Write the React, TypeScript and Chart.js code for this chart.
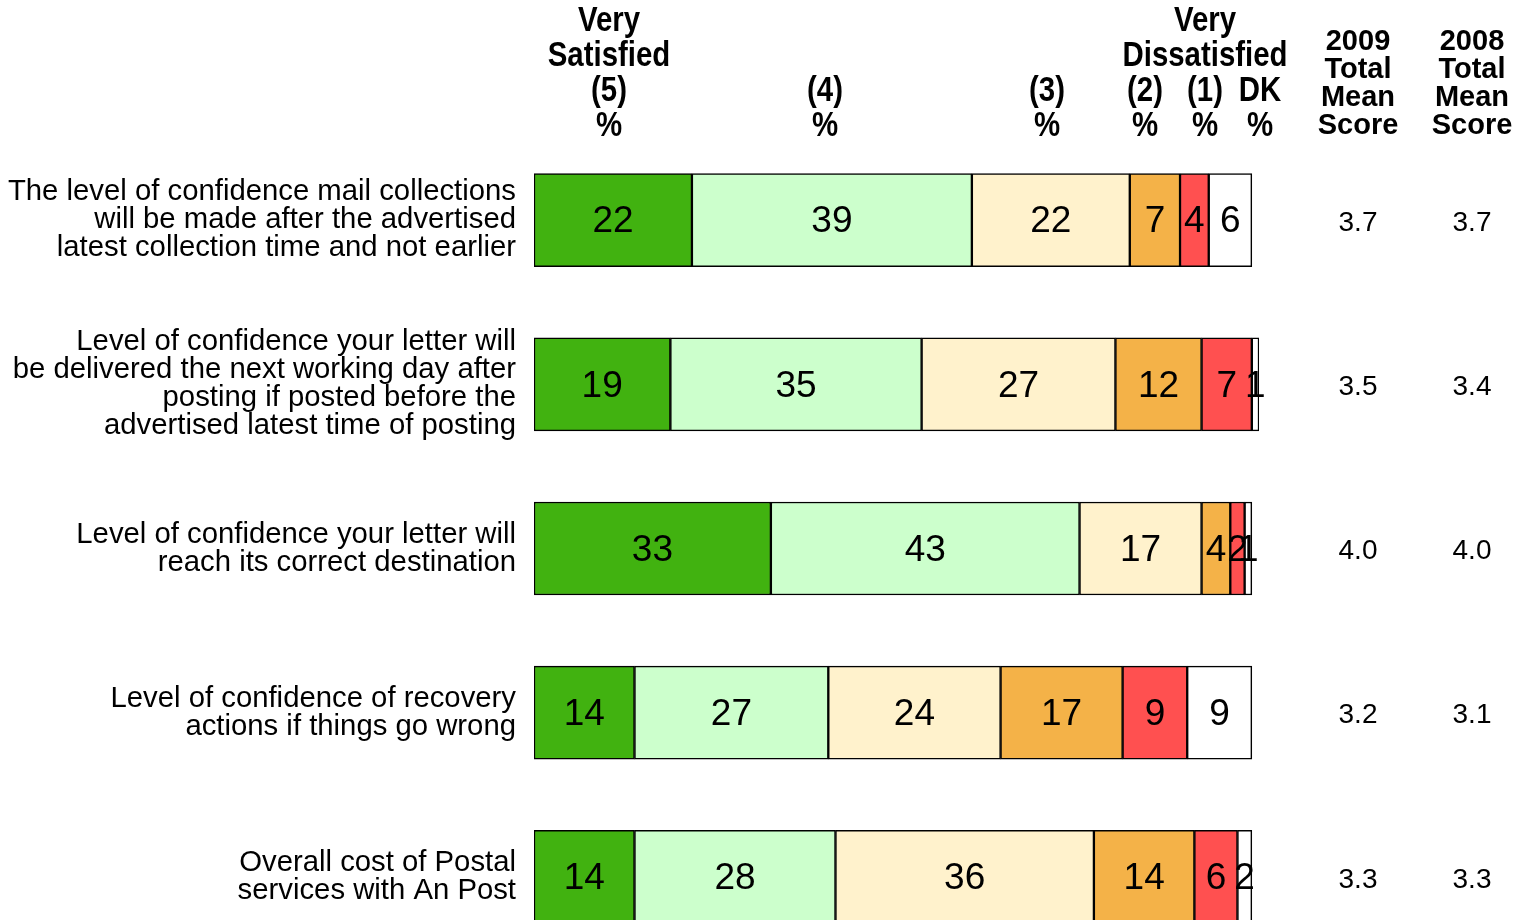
import React, { useEffect, useRef } from "react";
import { Chart, registerables } from "chart.js";

Chart.register(...registerables);

const categories: string[][] = [
  ["The level of confidence mail collections", "will be made after the advertised", "latest collection time and not earlier"],
  ["Level of confidence your letter will", "be delivered the next working day after", "posting if posted before the", "advertised latest time of posting"],
  ["Level of confidence your letter will", "reach its correct destination"],
  ["Level of confidence of recovery", "actions if things go wrong"],
  ["Overall cost of Postal", "services with An Post"],
];

const seriesNames = ["(5)", "(4)", "(3)", "(2)", "(1)", "DK"];
const verySatisfied5 = [22, 19, 33, 14, 14];
const satisfied4 = [39, 35, 43, 27, 28];
const neutral3 = [22, 27, 17, 24, 36];
const dissatisfied2 = [7, 12, 4, 17, 14];
const veryDissatisfied1 = [4, 7, 2, 9, 6];
const dontKnow = [6, 1, 1, 9, 2];

const mean2009 = ["3.7", "3.5", "4.0", "3.2", "3.3"];
const mean2008 = ["3.7", "3.4", "4.0", "3.1", "3.3"];

const columnHeaders: string[][] = [
  ["Very", "Satisfied", "(5)", "%"],
  ["(4)", "%"],
  ["(3)", "%"],
  ["(2)", "%"],
  ["Very", "Dissatisfied", "(1)", "%"],
  ["DK", "%"],
];
const meanHeaders: string[][] = [
  ["2009", "Total", "Mean", "Score"],
  ["2008", "Total", "Mean", "Score"],
];

const colors = ["#41B210", "#CCFFCC", "#FFF2CC", "#F4B248", "#FF5050", "#FFFFFF"];

const FONT = "'Liberation Sans', Arial, Helvetica, sans-serif";

export default function App() {
  const ref = useRef<HTMLCanvasElement | null>(null);

  useEffect(() => {
    const canvas = ref.current;
    if (!canvas) return;
    const seriesValues = [verySatisfied5, satisfied4, neutral3, dissatisfied2, veryDissatisfied1, dontKnow];

    const textPlugin = {
      id: "textPlugin",
      afterDatasetsDraw(chart: any) {
        const ctx = chart.ctx as CanvasRenderingContext2D;
        const yScale = chart.scales.y;
        ctx.save();
        ctx.fillStyle = "#000";
        ctx.textBaseline = "middle";

        // values inside segments
        ctx.font = `37px ${FONT}`;
        ctx.textAlign = "center";
        chart.data.datasets.forEach((ds: any, di: number) => {
          const meta = chart.getDatasetMeta(di);
          meta.data.forEach((el: any, i: number) => {
            const v = ds.data[i];
            const props = el.getProps(["x", "y", "base"], true);
            const cx = (props.x + props.base) / 2;
            ctx.fillText(String(v), cx, props.y + 2);
          });
        });

        // category labels on the left
        ctx.font = `29.3px ${FONT}`;
        ctx.textAlign = "right";
        const lh = 28;
        categories.forEach((lines, i) => {
          const cy = yScale.getPixelForValue(i);
          const top = cy - ((lines.length - 1) * lh) / 2;
          lines.forEach((ln, k) => ctx.fillText(ln, 516, top + k * lh));
        });

        // mean scores
        ctx.font = `28px ${FONT}`;
        ctx.textAlign = "center";
        categories.forEach((_, i) => {
          const cy = yScale.getPixelForValue(i) + 3;
          ctx.fillText(mean2009[i], 1358, cy);
          ctx.fillText(mean2008[i], 1472, cy);
        });

        // column headers (condensed bold)
        const headerX = [609, 825, 1047, 1145, 1205, 1260];
        ctx.font = `bold 35px ${FONT}`;
        columnHeaders.forEach((lines, c) => {
          const n = lines.length;
          lines.forEach((ln, k) => {
            const y = 126 - (n - 1 - k) * 35;
            ctx.save();
            ctx.translate(headerX[c], y);
            ctx.scale(0.84, 1);
            ctx.fillText(ln, 0, 0);
            ctx.restore();
          });
        });

        // mean headers
        const meanX = [1358, 1472];
        ctx.font = `bold 29px ${FONT}`;
        meanHeaders.forEach((lines, c) => {
          const n = lines.length;
          lines.forEach((ln, k) => {
            const y = 126 - (n - 1 - k) * 28;
            ctx.fillText(ln, meanX[c], y);
          });
        });
        ctx.restore();
      },
    };

    const chart = new Chart(canvas, {
      type: "bar",
      data: {
        labels: categories.map((c) => c.join(" ")),
        datasets: seriesNames.map((name, si) => ({
          label: name,
          data: seriesValues[si],
          backgroundColor: colors[si],
          borderColor: "#000000",
          borderWidth: 1.5,
          borderSkipped: false,
          barThickness: 93,
        })),
      },
      options: {
        indexAxis: "y",
        responsive: false,
        animation: false,
        devicePixelRatio: 1,
        layout: { padding: { left: 534, right: 258, top: 138, bottom: 41 } },
        scales: {
          x: { stacked: true, min: 0, max: 101, display: false },
          y: { stacked: true, display: false },
        },
        plugins: {
          legend: { display: false },
          tooltip: { enabled: false },
        },
      },
      plugins: [textPlugin],
    } as any);

    return () => chart.destroy();
  }, []);

  return (
    <div style={{ position: "fixed", left: 0, top: 0, width: 1517, height: 920, overflow: "hidden", background: "#fff" }}>
      <canvas ref={ref} width={1517} height={1000} style={{ display: "block" }} />
    </div>
  );
}
